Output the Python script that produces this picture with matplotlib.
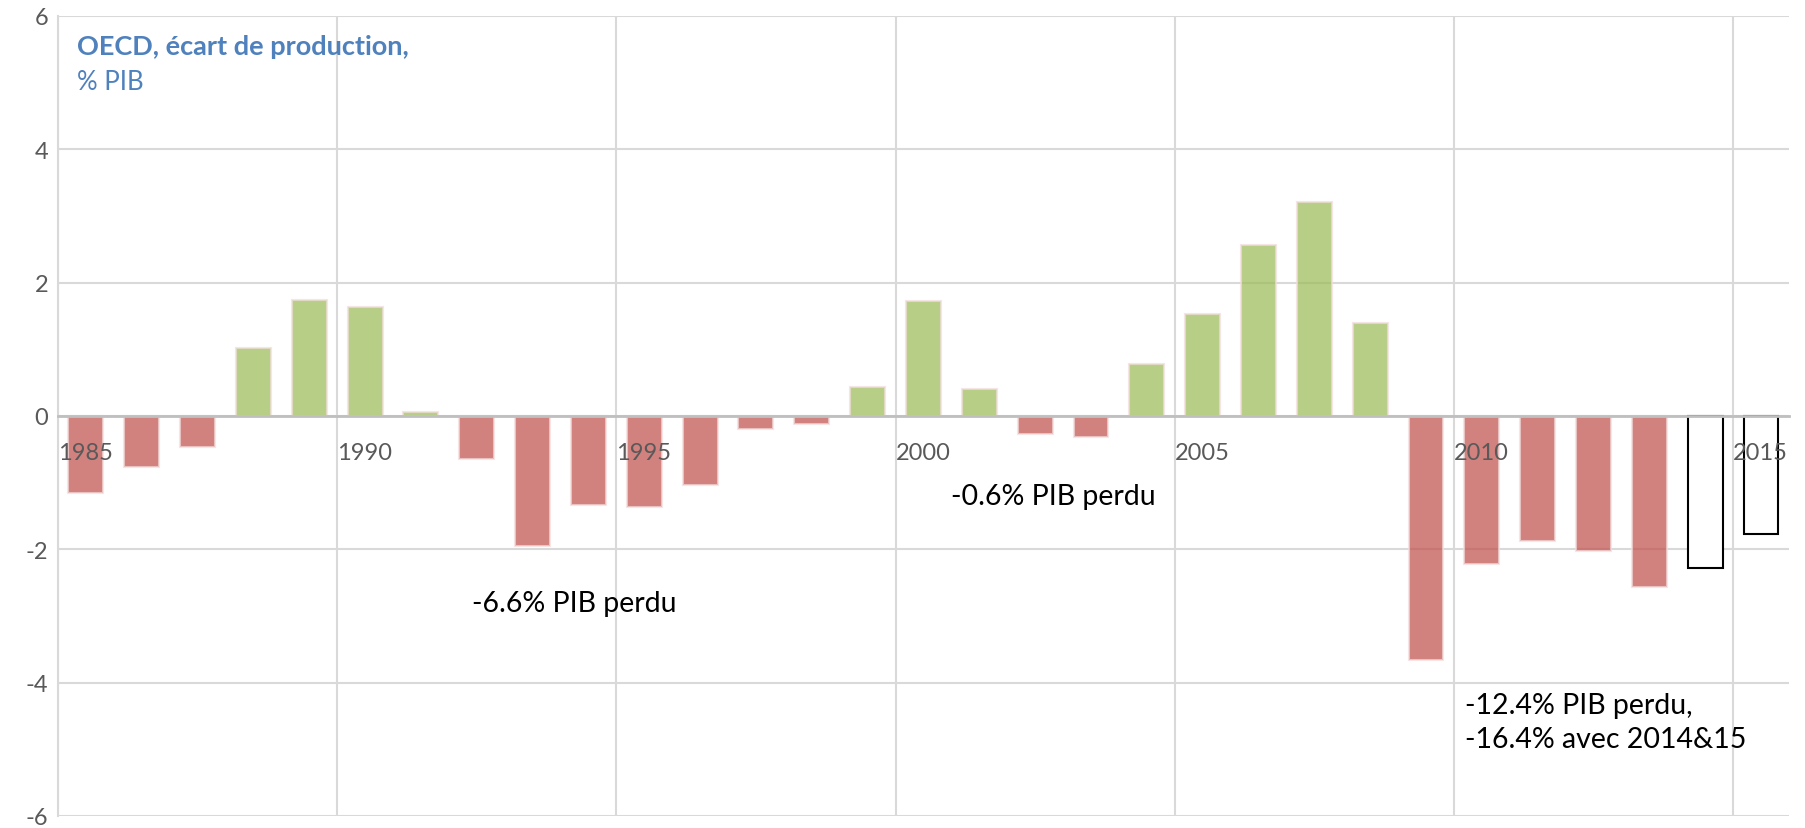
import numpy as np
import matplotlib.pyplot as plt

# --- donnees: ecart de production OECD, % PIB ---
annees = list(range(1985, 2016))
ecart = [-1.15, -0.77, -0.46, 1.02, 1.74, 1.63, 0.06, -0.65, -1.95, -1.34,
         -1.36, -1.04, -0.19, -0.12, 0.43, 1.73, 0.41, -0.27, -0.31, 0.78,
         1.53, 2.57, 3.21, 1.39, -3.66, -2.22, -1.88, -2.03, -2.57]
prevision = [-2.28, -1.77]   # 2014 et 2015, barres vides
annees_prev = [2014, 2015]
etiquettes_x = ['1985', '1990', '1995', '2000', '2005', '2010', '2015']
graduations_y = [-6, -4, -2, 0, 2, 4, 6]

ROUGE = '#C0504D'
VERT = '#9BBB59'
BORD = '#F2DCDB'
GRIS = '#595959'
GRILLE = '#D9D9D9'
BLEU = '#4F81BD'

plt.rcParams['font.family'] = ['Lato', 'DejaVu Sans']

fig = plt.figure(figsize=(18.05, 8.29), dpi=100)
ax = fig.add_axes([0.0321, 0.0145, 0.9590, 0.965])

x = np.array(annees[:len(ecart)]) - annees[0]
couleurs = [VERT if v > 0 else ROUGE for v in ecart]
ax.bar(x, ecart, width=0.625, color=couleurs, alpha=0.72,
       edgecolor=BORD, linewidth=1.5, zorder=2)

xp = np.array(annees_prev) - annees[0]
ax.bar(xp, prevision, width=0.625, facecolor='white', edgecolor='black',
       linewidth=1.5, zorder=2)

ax.set_xlim(-0.5, len(annees) - 0.5)
ax.set_ylim(-6, 6)

# axe horizontal a zero (avant les libelles: set_position remet les ticks a zero)
ax.spines['bottom'].set_position(('data', 0))
ax.spines['bottom'].set_color('#BFBFBF')
ax.spines['bottom'].set_linewidth(2)
ax.spines['bottom'].set_zorder(4)
ax.spines['left'].set_color(GRILLE)
ax.spines['left'].set_linewidth(1.5)
ax.spines['top'].set_visible(False)
ax.spines['right'].set_visible(False)

# graduations entre categories, libelles alignes a gauche
pos_x = [int(a) - annees[0] - 0.5 for a in etiquettes_x]
ax.set_xticks(pos_x)
ax.set_xticklabels(etiquettes_x)
ax.set_yticks(graduations_y)
ax.set_yticklabels([str(v) for v in graduations_y])
ax.tick_params(axis='x', length=0, pad=19, labelsize=17, labelcolor=GRIS)
ax.tick_params(axis='y', length=0, pad=7, labelsize=17, labelcolor=GRIS)
for lab in ax.get_xticklabels():
    lab.set_horizontalalignment('left')

# quadrillage sous les barres, libelles des axes au-dessus
for p in pos_x:
    ax.axvline(p, color=GRILLE, linewidth=1.5, zorder=1)
for v in graduations_y:
    ax.axhline(v, color=GRILLE, linewidth=1.5, zorder=1)
ax.set_axisbelow(False)

# titre et annotations
ax.text(0.011, 0.963, 'OECD, écart de production,', transform=ax.transAxes,
        fontsize=19.5, fontweight='bold', color=BLEU, va='center')
ax.text(0.011, 0.918, '% PIB', transform=ax.transAxes,
        fontsize=18.5, color=BLEU, va='center')
ax.text(6.92, -2.8, '-6.6% PIB perdu', fontsize=20.5, color='black', va='center')
ax.text(15.5, -1.2, '-0.6% PIB perdu', fontsize=20.5, color='black', va='center')
ax.text(24.7, -4.59, '-12.4% PIB perdu,\n-16.4% avec 2014&15', fontsize=20.5,
        color='black', va='center', linespacing=1.35)

fig.savefig('out.png', dpi=100)
